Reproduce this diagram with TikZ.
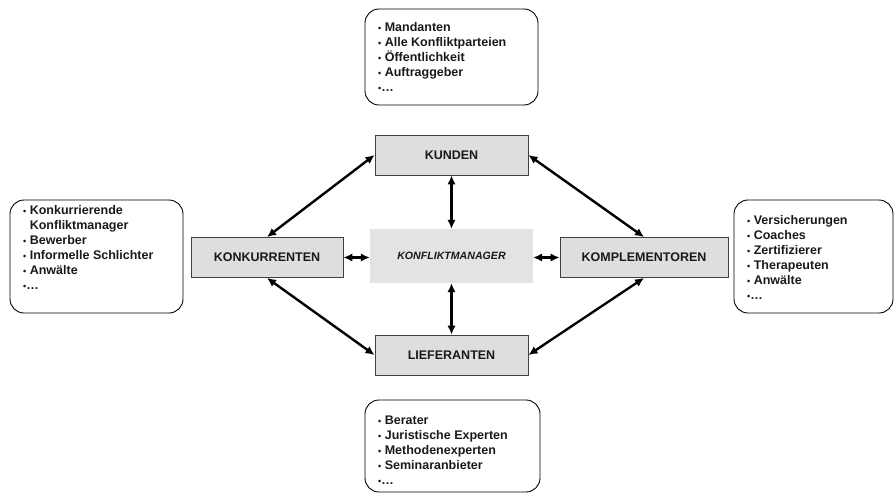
\documentclass[tikz,border=0pt]{standalone}
\usepackage{fontspec}
\setmainfont{Liberation Sans}
\usetikzlibrary{arrows.meta,calc}
\newcommand{\bul}{{\fontsize{9}{9}\selectfont •}}
\begin{document}
\begin{tikzpicture}[x=1pt,y=-1pt,
  actor/.style={draw=black!75, line width=0.9pt, fill=black!13, inner sep=0pt,
    font=\fontsize{12.5}{15}\selectfont\bfseries, text=black!90},
  core/.style={fill=black!11, inner sep=0pt, minimum width=163pt, minimum height=54pt,
    font=\fontsize{10.6}{12}\selectfont\bfseries\itshape, text=black!90},
  listbox/.style={draw=black, line width=0.9pt, rounded corners=14pt, inner sep=0pt},
  listtext/.style={anchor=north west, inner sep=0pt, align=left,
    font=\fontsize{12.5}{15}\selectfont\bfseries, text=black!90},
  link/.style={line width=2.4pt, {Latex[length=9pt,width=8.5pt]}-{Latex[length=9pt,width=8.5pt]}}
]
\useasboundingbox (0,0) rectangle (896,495);

% central boxes
\node[actor, minimum width=153pt, minimum height=40pt] (kunden) at (451.5,155) {KUNDEN};
\node[actor, minimum width=153pt, minimum height=40pt] (lief) at (451.5,355) {LIEFERANTEN};
\node[actor, minimum width=152pt, minimum height=40pt] (konk) at (267,257.5) {KONKURRENTEN};
\node[actor, minimum width=168pt, minimum height=40pt] (komp) at (644,257.5) {KOMPLEMENTOREN};
\node[core] (km) at (451.5,256) {KONFLIKTMANAGER};

% list boxes
\node[listbox, minimum width=173pt, minimum height=96pt] (topbox) at (451.5,57) {};
\node[listbox, minimum width=173pt, minimum height=113pt] (leftbox) at (96.5,256.5) {};
\node[listbox, minimum width=159pt, minimum height=113pt] (rightbox) at (813.5,256.5) {};
\node[listbox, minimum width=175pt, minimum height=92pt] (botbox) at (452.5,446) {};

\node[listtext] (toptext) at (378,22.5) {\bul\ Mandanten\\ \bul\ Alle Konfliktparteien\\ \bul\ Öffentlichkeit\\ \bul\ Auftraggeber\\ \bul…};
\node[listtext] (lefttext) at (23,205.5) {\bul\ Konkurrierende\\ \hphantom{\bul\ }Konfliktmanager\\ \bul\ Bewerber\\ \bul\ Informelle Schlichter\\ \bul\ Anwälte\\ \bul…};
\node[listtext] (righttext) at (747,215.5) {\bul\ Versicherungen\\ \bul\ Coaches\\ \bul\ Zertifizierer\\ \bul\ Therapeuten\\ \bul\ Anwälte\\ \bul…};
\node[listtext] (bottext) at (378,415.5) {\bul\ Berater\\ \bul\ Juristische Experten\\ \bul\ Methodenexperten\\ \bul\ Seminaranbieter\\ \bul…};

% connectors
\draw[link] (kunden.south) -- (km.north);
\draw[link] (km.south) -- (lief.north);
\draw[link] (konk.east) -- (konk.east -| km.west);
\draw[link] (komp.west -| km.east) -- (komp.west);
\draw[link] (kunden.west) -- (konk.north);
\draw[link] (kunden.east) -- (komp.north);
\draw[link] (lief.west) -- (konk.south);
\draw[link] (lief.east) -- (komp.south);
\end{tikzpicture}
\end{document}
